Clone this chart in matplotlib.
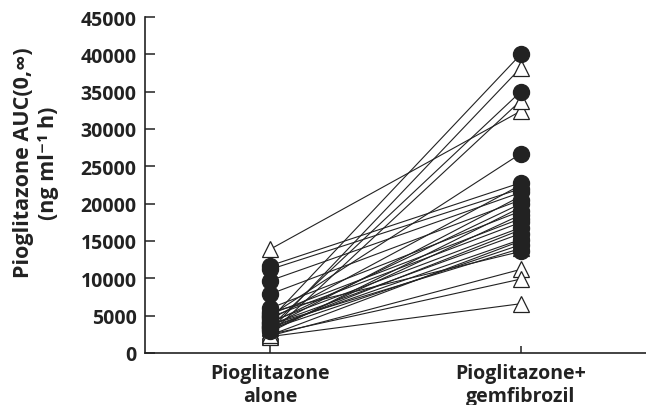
import matplotlib
matplotlib.use("Agg")
import matplotlib.pyplot as plt

plt.rcParams['font.family'] = ['Open Sans', 'DejaVu Sans']
plt.rcParams['font.weight'] = 'bold'

groups = ["Pioglitazone\nalone", "Pioglitazone+\ngemfibrozil"]

# filled circles: AUC alone, AUC with gemfibrozil
circle_alone = [4500, 3500, 5000, 11700, 9700, 7900, 11200, 6000, 5200,
                4800, 4200, 3800, 3500, 3200, 5500, 4000, 3000]
circle_gem = [40000, 35000, 26700, 22800, 21500, 20500, 22000, 19000, 18000,
              17500, 16800, 16000, 15200, 14500, 13600, 20000, 18500]

# open triangles
tri_alone = [3000, 13900, 2600, 2300, 2500, 2200, 3500, 2800, 3300, 2400, 4500, 3800]
tri_gem = [38200, 32400, 33800, 11200, 9900, 6600, 21000, 19500, 16500, 15000, 22500, 14000]

fig = plt.figure(figsize=(6.46, 4.06), dpi=100)
ax = fig.add_axes([145 / 646, 52 / 406, 501 / 646, 336 / 406])

for a, b in zip(tri_alone, tri_gem):
    ax.plot([0, 1], [a, b], color='#222222', lw=0.8, zorder=1)
for a, b in zip(circle_alone, circle_gem):
    ax.plot([0, 1], [a, b], color='#222222', lw=0.8, zorder=1)

ax.plot([0] * len(tri_alone), tri_alone, ls='none', marker='^', ms=11,
        mfc='white', mec='#222222', mew=0.9, zorder=2)
ax.plot([1] * len(tri_gem), tri_gem, ls='none', marker='^', ms=11,
        mfc='white', mec='#222222', mew=0.9, zorder=2)
ax.plot([0] * len(circle_alone), circle_alone, ls='none', marker='o', ms=11.5,
        mfc='#222222', mec='#222222', zorder=3)
ax.plot([1] * len(circle_gem), circle_gem, ls='none', marker='o', ms=11.5,
        mfc='#222222', mec='#222222', zorder=3)

ax.set_xlim(-0.5, 1.5)
ax.set_ylim(0, 45000)
ax.set_yticks(range(0, 45001, 5000))
ax.set_xticks([0, 1])
ax.set_xticklabels(groups, fontsize=14, fontweight='bold', linespacing=1.25)
ax.tick_params(axis='y', direction='in', length=7, width=1.1, pad=6,
               labelsize=14, colors='#222222')
ax.tick_params(axis='x', direction='in', length=5, width=1.1, pad=7,
               colors='#222222')
for lab in ax.get_yticklabels():
    lab.set_fontweight('bold')

ax.spines['top'].set_visible(False)
ax.spines['right'].set_visible(False)
ax.spines['left'].set_linewidth(1.2)
ax.spines['bottom'].set_linewidth(1.2)
ax.spines['left'].set_color('#222222')
ax.spines['bottom'].set_color('#222222')

fig.text(36 / 646, 1 - 163 / 406, "Pioglitazone AUC(0,\u221e)\n(ng ml\u207b\u00b9 h)",
         rotation=90, ha='center', va='center', multialignment='center',
         fontsize=15.5, fontweight='bold', color='#222222', linespacing=1.3)

fig.savefig("out.png", dpi=100)
